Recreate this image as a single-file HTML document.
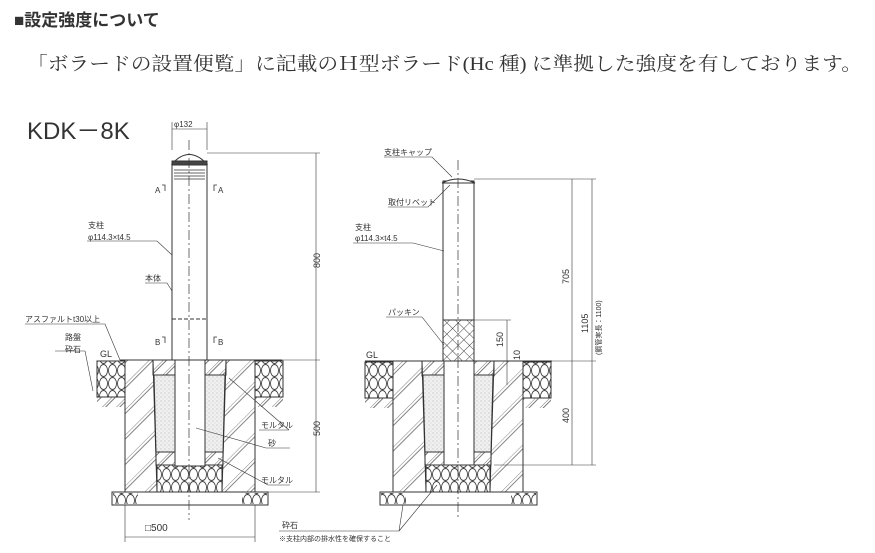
<!DOCTYPE html>
<html><head><meta charset="utf-8"><style>
body{margin:0;background:#fff;width:875px;height:553px;overflow:hidden}
svg{display:block}
.t{font-family:"Liberation Sans","Noto Sans CJK JP",sans-serif;fill:#333}
</style></head><body>
<svg width="875" height="553" viewBox="0 0 875 553" xmlns="http://www.w3.org/2000/svg">
<defs>
<pattern id="h" width="10" height="10" patternUnits="userSpaceOnUse" patternTransform="rotate(45)">
<line x1="0" y1="0" x2="0" y2="10" stroke="#555" stroke-width="0.8"/><line x1="2.5" y1="0" x2="2.5" y2="10" stroke="#555" stroke-width="0.8"/></pattern>
<pattern id="h2" width="18" height="18" patternUnits="userSpaceOnUse" patternTransform="rotate(45)">
<line x1="0" y1="0" x2="0" y2="18" stroke="#666" stroke-width="0.8"/><line x1="3" y1="0" x2="3" y2="18" stroke="#666" stroke-width="0.8"/></pattern>
<pattern id="x" width="8" height="8" patternUnits="userSpaceOnUse" patternTransform="rotate(45)">
<line x1="0" y1="0" x2="0" y2="8" stroke="#444"/><line x1="0" y1="0" x2="8" y2="0" stroke="#444"/></pattern>
<pattern id="s" width="4" height="4" patternUnits="userSpaceOnUse">
<rect width="4" height="4" fill="#f0f0f0"/><circle cx="1" cy="1" r="0.5" fill="#999"/><circle cx="3" cy="3" r="0.4" fill="#aaa"/></pattern>
<pattern id="g" width="9" height="13" patternUnits="userSpaceOnUse">
<ellipse cx="4.5" cy="6.5" rx="4" ry="6" fill="none" stroke="#444" stroke-width="0.9"/></pattern>
</defs>
<text x="14" y="26" class="t" font-size="17" font-weight="bold" fill="#222">■設定強度について</text>
<text x="27" y="70" font-family="'Liberation Serif','Noto Serif CJK SC',serif" font-size="19" fill="#333" textLength="835" lengthAdjust="spacingAndGlyphs">「ボラードの設置便覧」に記載のＨ型ボラード(Hc 種) に準拠した強度を有しております。</text>
<text x="27" y="139" class="t" font-size="24" fill="#222">KDK－8K</text>

<g stroke="#333" fill="none" stroke-width="1">
<!-- LEFT -->
<rect x="97" y="361" width="28" height="36" fill="url(#g)"/>
<rect x="255" y="361" width="28" height="36" fill="url(#g)"/>
<rect x="97" y="397" width="28" height="10" fill="url(#h)" stroke="none"/>
<rect x="255" y="397" width="28" height="10" fill="url(#h)" stroke="none"/>
<rect x="125" y="360" width="130" height="132" fill="url(#h2)"/>
<polygon points="153,360 226,360 222,492 157,492" fill="#fff"/>
<rect x="153" y="360" width="73" height="15" fill="url(#h)"/>
<polygon points="154,375 225,375 223,452 156,452" fill="url(#s)"/>
<rect x="156" y="452" width="67" height="13" fill="url(#h)"/>
<rect x="157" y="465" width="65" height="27" fill="url(#g)"/>
<rect x="112" y="492" width="156" height="13" fill="#fff"/>
<rect x="113" y="493" width="25" height="11" fill="url(#g)" stroke="none"/>
<rect x="242" y="493" width="25" height="11" fill="url(#g)" stroke="none"/>
<rect x="175" y="360" width="30" height="106" fill="#fff"/>
<line x1="120" y1="360" x2="282" y2="360"/>
<rect x="172" y="165" width="35" height="195" fill="#fff"/>
<path d="M172,164 Q189,145 207,164 Z" fill="#fff"/>
<rect x="172" y="161" width="35" height="4" fill="#444"/>
<path d="M174,170h31M174,173h31M174,176h31M174,179h31" stroke-width="0.8"/>
<rect x="172" y="319" width="35" height="41" stroke-dasharray="4,2"/>
<line x1="189" y1="140" x2="189" y2="520" stroke-dasharray="10,3,2,3" stroke-width="0.7"/>
<line x1="172" y1="122" x2="172" y2="150" stroke-width="0.6"/><line x1="207" y1="122" x2="207" y2="150" stroke-width="0.6"/>
<line x1="172" y1="129" x2="207" y2="129" stroke-width="0.6"/>
<line x1="207" y1="153" x2="320" y2="153" stroke-width="0.6"/>
<line x1="212" y1="360" x2="320" y2="360" stroke-width="0.6"/>
<line x1="316" y1="153" x2="316" y2="492" stroke-width="0.6"/>
<line x1="268" y1="492" x2="320" y2="492" stroke-width="0.6"/>
<line x1="125" y1="505" x2="125" y2="542" stroke-width="0.6"/><line x1="255" y1="505" x2="255" y2="542" stroke-width="0.6"/>
<line x1="125" y1="537" x2="255" y2="537" stroke-width="0.6"/>
<path d="M87,241h70l15,14M145,283h22l5,8M25,324h80l15,36M55,351h30l8,40M259,430h30M289,430l-60,-52M266,448h24M266,448l-70,-20M268,485h22M268,485l-50,-27" stroke-width="0.6"/>
<path d="M165,191v-6h-3M214,191v-6h3M165,343v-6h-3M214,343v-6h3" stroke-width="0.8"/>

<!-- RIGHT -->
<rect x="365" y="362" width="28" height="36" fill="url(#g)"/>
<rect x="523" y="362" width="28" height="36" fill="url(#g)"/>
<rect x="365" y="398" width="28" height="10" fill="url(#h)" stroke="none"/>
<rect x="523" y="398" width="28" height="10" fill="url(#h)" stroke="none"/>
<rect x="393" y="361" width="130" height="131" fill="url(#h2)"/>
<polygon points="422,361 494,361 490,492 426,492" fill="#fff"/>
<rect x="422" y="361" width="72" height="15" fill="url(#h)"/>
<polygon points="423,375 493,375 491,452 425,452" fill="url(#s)"/>
<rect x="425" y="452" width="66" height="13" fill="url(#h)"/>
<rect x="426" y="465" width="64" height="27" fill="url(#g)"/>
<rect x="380" y="492" width="157" height="13" fill="#fff"/>
<rect x="381" y="493" width="25" height="11" fill="url(#g)" stroke="none"/>
<rect x="511" y="493" width="25" height="11" fill="url(#g)" stroke="none"/>
<rect x="444" y="361" width="30" height="104" fill="#fff"/>
<line x1="365" y1="361" x2="552" y2="361"/>
<rect x="443" y="181" width="31" height="139" fill="#fff"/>
<rect x="443" y="320" width="31" height="41" fill="url(#x)"/>
<path d="M442,183 Q458,175 475,183 Z" fill="#fff"/>
<line x1="458" y1="160" x2="458" y2="520" stroke-dasharray="10,3,2,3" stroke-width="0.7"/>
<line x1="474" y1="179" x2="596" y2="179" stroke-width="0.6"/>
<line x1="490" y1="361" x2="596" y2="361" stroke-width="0.6"/>
<line x1="494" y1="465" x2="596" y2="465" stroke-width="0.6"/>
<line x1="474" y1="320" x2="511" y2="320" stroke-width="0.6"/>
<line x1="507" y1="320" x2="507" y2="385" stroke-width="0.6"/>
<line x1="572" y1="179" x2="572" y2="465" stroke-width="0.6"/>
<line x1="592" y1="179" x2="592" y2="465" stroke-width="0.6"/>
<path d="M384,157h48l20,20M388,207h40l22,-22M353,243h60l31,8M386,317h36l22,28M279,531h120l4,-26M399,531l38,-46" stroke-width="0.6"/>
</g>
<g class="t" font-size="8">
<text x="174" y="127">φ132</text>
<text x="155" y="193">A</text><text x="218" y="193">A</text>
<text x="155" y="345">B</text><text x="218" y="345">B</text>
<text x="88" y="228">支柱</text><text x="88" y="240">φ114.3×t4.5</text>
<text x="145" y="281">本体</text>
<text x="25" y="322">アスファルトt30以上</text>
<text x="65" y="340">路盤</text><text x="65" y="352">砕石</text>
<text x="100" y="357" font-size="9">GL</text>
<text x="261" y="428">モルタル</text><text x="268" y="446">砂</text><text x="261" y="483">モルタル</text>
<text x="145" y="531" font-size="10">□500</text>
<text x="282" y="528">砕石</text><text x="279" y="541" font-size="7">※支柱内部の排水性を確保すること</text>
<text transform="translate(320,268) rotate(-90)" font-size="9">800</text>
<text transform="translate(320,436) rotate(-90)" font-size="9">500</text>
<text x="384" y="155">支柱キャップ</text>
<text x="388" y="205">取付リベット</text>
<text x="355" y="230">支柱</text><text x="355" y="241">φ114.3×t4.5</text>
<text x="388" y="315">パッキン</text>
<text x="366" y="358" font-size="9">GL</text>
<text transform="translate(503,347) rotate(-90)" font-size="9">150</text>
<text transform="translate(520,360) rotate(-90)" font-size="9">10</text>
<text transform="translate(569,284) rotate(-90)" font-size="9">705</text>
<text transform="translate(569,423) rotate(-90)" font-size="9">400</text>
<text transform="translate(588,333) rotate(-90)" font-size="9">1105</text>
<text transform="translate(601,355) rotate(-90)" font-size="7">(鋼管実長：1100)</text>
</g>
</svg>
</body></html>
